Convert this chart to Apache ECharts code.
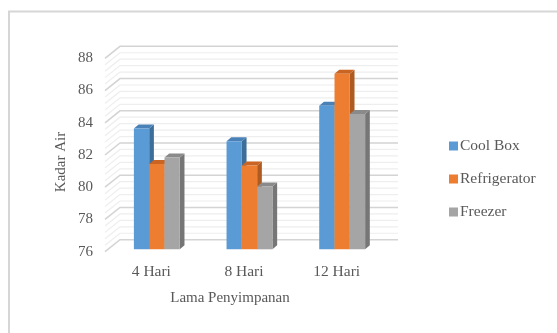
<!DOCTYPE html>
<html>
<head>
<meta charset="utf-8">
<script src="https://cdn.jsdelivr.net/npm/echarts@6/dist/echarts.min.js"></script>
<style>
  html, body { margin: 0; padding: 0; background: #fff; }
  #chart { width: 557px; height: 333px; }
</style>
</head>
<body>
<div id="chart"></div>
<script>
// Kadar air per lama penyimpanan dan metode penyimpanan
const categories = ['4 Hari', '8 Hari', '12 Hari'];
const coolBox = [83.5, 82.7, 84.9];
const refrigerator = [81.3, 81.2, 86.9];
const freezer = [81.7, 79.9, 84.4];
const seriesNames = ['Cool Box', 'Refrigerator', 'Freezer'];
const yTicks = { min: 76, max: 88, major: 2, minorParts: 5 };

const FONT = '"Liberation Serif", "Times New Roman", serif';
const TEXT = '#595959';

// front, top and side shades for each series
const palette = [
  { front: '#5B9BD5', top: '#4A82B8', side: '#3D6D99' },
  { front: '#ED7D31', top: '#C96422', side: '#AE5A21' },
  { front: '#A5A5A5', top: '#8A8A8A', side: '#767676' }
];

// wall depth (back wall offset) and bar depth
const WALL_DX = 15, WALL_DY = -12;
const BAR_W = 15.3, BAR_DX = 4.7, BAR_DY = -4;
const BAR_SHIFT_X = 5.5, BAR_SHIFT_Y = -2.4;

// gridline levels on side wall + back wall
const gridLevels = [];
for (let i = 0; i <= (yTicks.max - yTicks.min) / yTicks.major * yTicks.minorParts; i++) {
  const v = +(yTicks.min + i * yTicks.major / yTicks.minorParts).toFixed(2);
  gridLevels.push([v, i % yTicks.minorParts === 0 ? 1 : 0]);
}

const chart = echarts.init(document.getElementById('chart'), null, { renderer: 'canvas' });

function wallItem(params, api) {
  const v = api.value(0);
  const major = api.value(1) === 1;
  const band = api.size([1, 0])[0];
  const first = api.coord([0, v]);
  const last = api.coord([categories.length - 1, v]);
  const xl = first[0] - band / 2;
  const xr = last[0] + band / 2;
  const y = first[1];
  return {
    type: 'polyline',
    shape: {
      points: [
        [xl, y],
        [xl + WALL_DX, y + WALL_DY],
        [xr + WALL_DX, y + WALL_DY]
      ]
    },
    style: {
      fill: null,
      stroke: major ? '#D4D4D4' : '#EEEEEE',
      lineWidth: major ? 1.6 : 1.2
    },
    silent: true
  };
}

function barRenderer(idx) {
  const c = palette[idx];
  return function (params, api) {
    const cat = api.value(0);
    const val = api.value(1);
    const base = api.coord([cat, yTicks.min]);
    const top = api.coord([cat, val]);
    const x0 = base[0] + BAR_SHIFT_X - 1.5 * BAR_W + idx * BAR_W;
    const x1 = x0 + BAR_W;
    const yb = base[1] + BAR_SHIFT_Y;
    const yt = top[1] + BAR_SHIFT_Y;
    return {
      type: 'group',
      children: [
        {
          type: 'polygon',
          shape: { points: [[x1, yt], [x1 + BAR_DX, yt + BAR_DY], [x1 + BAR_DX, yb + BAR_DY], [x1, yb]] },
          style: { fill: c.side }
        },
        {
          type: 'polygon',
          shape: { points: [[x0, yt], [x0 + BAR_DX, yt + BAR_DY], [x1 + BAR_DX, yt + BAR_DY], [x1, yt]] },
          style: { fill: c.top }
        },
        {
          type: 'rect',
          shape: { x: x0, y: yt, width: BAR_W, height: yb - yt },
          style: { fill: c.front }
        }
      ]
    };
  };
}

const values = [coolBox, refrigerator, freezer];

const option = {
  animation: false,
  backgroundColor: '#fff',
  grid: { left: 105, right: 174, top: 58.3, bottom: 81.3 },
  xAxis: {
    type: 'category',
    data: categories,
    axisLine: { show: false },
    axisTick: { show: false },
    axisLabel: { color: TEXT, fontFamily: FONT, fontSize: 15.5, margin: 12 },
    splitLine: { show: false }
  },
  yAxis: {
    type: 'value',
    min: yTicks.min,
    max: yTicks.max,
    interval: yTicks.major,
    axisLine: { show: false },
    axisTick: { show: false },
    splitLine: { show: false },
    axisLabel: { color: TEXT, fontFamily: FONT, fontSize: 15, margin: 12 }
  },
  legend: {
    orient: 'vertical',
    left: 444,
    top: 133,
    icon: 'rect',
    itemWidth: 9,
    itemHeight: 9,
    itemGap: 17,
    textStyle: { color: TEXT, fontFamily: FONT, fontSize: 15.5, padding: [0, 0, 0, -3] },
    data: seriesNames
  },
  graphic: [
    {
      type: 'rect',
      shape: { x: 9, y: 11.5, width: 700, height: 500 },
      style: { fill: null, stroke: '#D6D6D6', lineWidth: 2 },
      silent: true
    },
    {
      type: 'text',
      x: 230, y: 298,
      style: { text: 'Lama Penyimpanan', fill: TEXT, font: '15px ' + FONT, align: 'center', verticalAlign: 'middle' }
    },
    {
      type: 'text',
      x: 61, y: 162,
      rotation: Math.PI / 2,
      style: { text: 'Kadar Air', fill: TEXT, font: '15px ' + FONT, align: 'center', verticalAlign: 'middle' }
    }
  ],
  series: [
    {
      type: 'custom',
      name: 'walls',
      renderItem: wallItem,
      data: gridLevels,
      encode: { y: 0 },
      z: 1,
      silent: true,
      clip: false
    }
  ].concat(seriesNames.map((name, i) => ({
    type: 'custom',
    name: name,
    itemStyle: { color: palette[i].front },
    renderItem: barRenderer(i),
    data: values[i].map((v, k) => [k, v]),
    encode: { x: 0, y: 1 },
    z: 2,
    clip: false
  })))
};

chart.setOption(option);
</script>
</body>
</html>
